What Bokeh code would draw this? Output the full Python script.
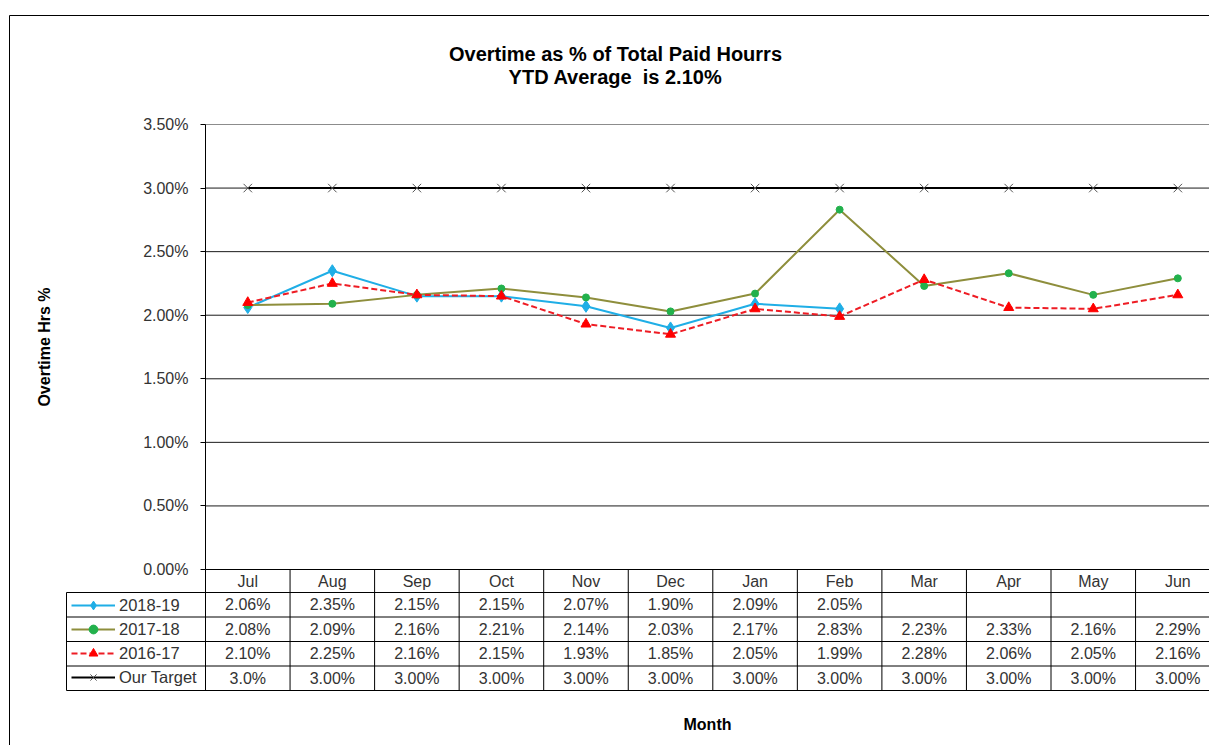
from bokeh.plotting import figure
from bokeh.models import (ColumnDataSource, Range1d, FixedTicker, PrintfTickFormatter,
                          Label, Legend, LegendItem)
from bokeh.core.properties import value
from bokeh.embed import file_html
from bokeh.resources import INLINE

# ---- data -------------------------------------------------------------
months = ["Jul", "Aug", "Sep", "Oct", "Nov", "Dec", "Jan", "Feb", "Mar", "Apr", "May", "Jun"]
fy_2018_19 = [2.06, 2.35, 2.15, 2.15, 2.07, 1.90, 2.09, 2.05, None, None, None, None]
fy_2017_18 = [2.08, 2.09, 2.16, 2.21, 2.14, 2.03, 2.17, 2.83, 2.23, 2.33, 2.16, 2.29]
fy_2016_17 = [2.10, 2.25, 2.16, 2.15, 1.93, 1.85, 2.05, 1.99, 2.28, 2.06, 2.05, 2.16]
our_target = [3.0, 3.0, 3.0, 3.0, 3.0, 3.0, 3.0, 3.0, 3.0, 3.0, 3.0, 3.0]
target_text = ["3.0%"] + ["3.00%"] * 11
series_names = ["2018-19", "2017-18", "2016-17", "Our Target"]
y_ticks = [0.0, 0.5, 1.0, 1.5, 2.0, 2.5, 3.0, 3.5]
title_lines = ["Overtime as % of Total Paid Hourrs", "YTD Average\u00a0 is 2.10%"]

# ---- page geometry (canvas pixels) ------------------------------------
W, H = 1209, 745
FL, FT, FB = 205, 124, 569        # plot area: left edge, 3.5% line, 0% line
COL_W = 84.55                     # width of one month column
PPU = (FB - FT) / 3.5             # pixels per percentage point
ROW_TOPS = [592, 616.5, 641, 665.5, 690]   # data-table row boundaries
TABLE_LEFT = 66
FONT = "Liberation Sans"
TEXT_GREY = "#333333"

X0 = -0.5 - FL / COL_W
X1 = X0 + W / COL_W
Y0 = -(H - FB) / PPU
Y1 = 3.5 + FT / PPU


def xd(px):
    """canvas x pixel -> x data value"""
    return X0 + px / COL_W


def yd(py):
    """canvas y pixel -> y data value"""
    return (FB - py) / PPU


x = list(range(len(months)))


def nanify(vals):
    return [float("nan") if v is None else v for v in vals]


p = figure(width=W, height=H,
           x_range=Range1d(X0, X1), y_range=Range1d(Y0, Y1),
           output_backend="svg", toolbar_location=None, min_border=0,
           outline_line_color=None,
           background_fill_color="white", border_fill_color="white")
p.grid.visible = False

# ---- axes (pinned inside the canvas) ----------------------------------
xa = p.xaxis[0]
xa.fixed_location = 0
xa.bounds = (-0.5, len(months) - 0.5)
xa.ticker = FixedTicker(ticks=x)
xa.major_label_overrides = {i: m for i, m in enumerate(months)}
xa.major_tick_out = 0
xa.major_tick_in = 0
xa.minor_tick_out = 0
xa.minor_tick_in = 0
xa.axis_line_color = "black"
xa.major_label_standoff = 3
xa.major_label_text_font = FONT
xa.major_label_text_font_size = "16px"
xa.major_label_text_color = TEXT_GREY
xa.axis_label = "Month"
xa.axis_label_text_font = FONT
xa.axis_label_text_font_size = "16px"
xa.axis_label_text_font_style = "bold"
xa.axis_label_text_color = "black"
xa.axis_label_standoff = 123

ya = p.yaxis[0]
ya.fixed_location = -0.5
ya.ticker = FixedTicker(ticks=y_ticks)
ya.formatter = PrintfTickFormatter(format="%.2f%%")
ya.bounds = (0, 3.5)
ya.major_tick_out = 5
ya.major_tick_in = 0
ya.minor_tick_out = 0
ya.minor_tick_in = 0
ya.axis_line_color = "black"
ya.major_tick_line_color = "black"
ya.major_label_standoff = 12
ya.major_label_text_font = FONT
ya.major_label_text_font_size = "16px"
ya.major_label_text_color = TEXT_GREY
ya.axis_label = "Overtime Hrs %"
ya.axis_label_text_font = FONT
ya.axis_label_text_font_size = "16px"
ya.axis_label_text_font_style = "bold"
ya.axis_label_text_color = "black"
ya.axis_label_standoff = 87

# ---- horizontal gridlines across the plot area ------------------------
grid_y = y_ticks[1:-1]
p.segment(x0=[-0.5] * len(grid_y), y0=grid_y, x1=[X1] * len(grid_y), y1=grid_y,
          line_color="#1a1a1a", line_width=1)
p.segment(x0=[-0.5], y0=[y_ticks[-1]], x1=[X1], y1=[y_ticks[-1]],
          line_color="#8c8c8c", line_width=1)

# ---- series -----------------------------------------------------------
r_b_line = p.line(x, nanify(fy_2018_19), line_color="#1FAEE6", line_width=2)
r_b_mark = p.scatter(x, nanify(fy_2018_19), marker="diamond", size=12,
                     fill_color="#1FAEE6", line_color="#1FAEE6")
r_g_line = p.line(x, fy_2017_18, line_color="#8E8E3C", line_width=2)
r_g_mark = p.scatter(x, fy_2017_18, marker="circle", size=7,
                     fill_color="#22B14C", line_color="#22B14C")
r_r_line = p.line(x, fy_2016_17, line_color="#EE1C24", line_width=2, line_dash="6 3")
r_r_mark = p.scatter(x, fy_2016_17, marker="triangle", size=10,
                     fill_color="#FF0000", line_color="#FF0000")
r_t_line = p.line(x, our_target, line_color="black", line_width=2)
r_t_mark = p.scatter(x, our_target, marker="x", size=12, line_color="#555555", line_width=1)

# ---- data table under the plot ----------------------------------------
n = len(months)
p.segment(x0=[i - 0.5 for i in range(n + 1)], y0=[0.0] * (n + 1),
          x1=[i - 0.5 for i in range(n + 1)], y1=[yd(ROW_TOPS[-1])] * (n + 1),
          line_color="black", line_width=1)
p.segment(x0=[xd(TABLE_LEFT)] * len(ROW_TOPS), y0=[yd(t) for t in ROW_TOPS],
          x1=[X1] * len(ROW_TOPS), y1=[yd(t) for t in ROW_TOPS],
          line_color="black", line_width=1)
p.segment(x0=[xd(TABLE_LEFT)], y0=[yd(ROW_TOPS[0])], x1=[xd(TABLE_LEFT)], y1=[yd(ROW_TOPS[-1])],
          line_color="black", line_width=1)

# outer chart border
p.segment(x0=[xd(9), xd(9)], y0=[yd(15), yd(15)], x1=[X1, xd(9)], y1=[yd(15), Y0],
          line_color="black", line_width=1)

rows = [
    [("" if v is None else f"{v:.2f}%") for v in fy_2018_19],
    [f"{v:.2f}%" for v in fy_2017_18],
    [f"{v:.2f}%" for v in fy_2016_17],
    target_text,
]
cell_x, cell_y, cell_t = [], [], []
for r, texts in enumerate(rows):
    mid = yd((ROW_TOPS[r] + ROW_TOPS[r + 1]) / 2)
    for i, t in enumerate(texts):
        cell_x.append(i)
        cell_y.append(mid)
        cell_t.append(t)
p.text(x="x", y="y", text="text", source=ColumnDataSource(dict(x=cell_x, y=cell_y, text=cell_t)),
       text_align="center", text_baseline="middle",
       text_font=value(FONT), text_font_size="16px", text_color=TEXT_GREY)

legend = Legend(items=[
    LegendItem(label=series_names[0], renderers=[r_b_line, r_b_mark]),
    LegendItem(label=series_names[1], renderers=[r_g_line, r_g_mark]),
    LegendItem(label=series_names[2], renderers=[r_r_line, r_r_mark]),
    LegendItem(label=series_names[3], renderers=[r_t_line, r_t_mark]),
], location=(71, H - 594 - (4 * 22 + 3 * 2)),
    orientation="vertical", padding=0, spacing=2, margin=0,
    glyph_height=22, glyph_width=44, label_height=22, label_standoff=4,
    label_text_font=FONT, label_text_font_size="16.5px", label_text_color=TEXT_GREY,
    border_line_color=None, background_fill_alpha=0)
p.add_layout(legend)

# ---- title ------------------------------------------------------------
for k, line in enumerate(title_lines):
    p.add_layout(Label(x=xd(615), y=yd(53 + 23 * k), text=line,
                       text_align="center", text_baseline="alphabetic",
                       text_font=FONT, text_font_size="20px", text_font_style="bold",
                       text_color="black"))

open("out.html", "w").write(file_html(p, INLINE))
